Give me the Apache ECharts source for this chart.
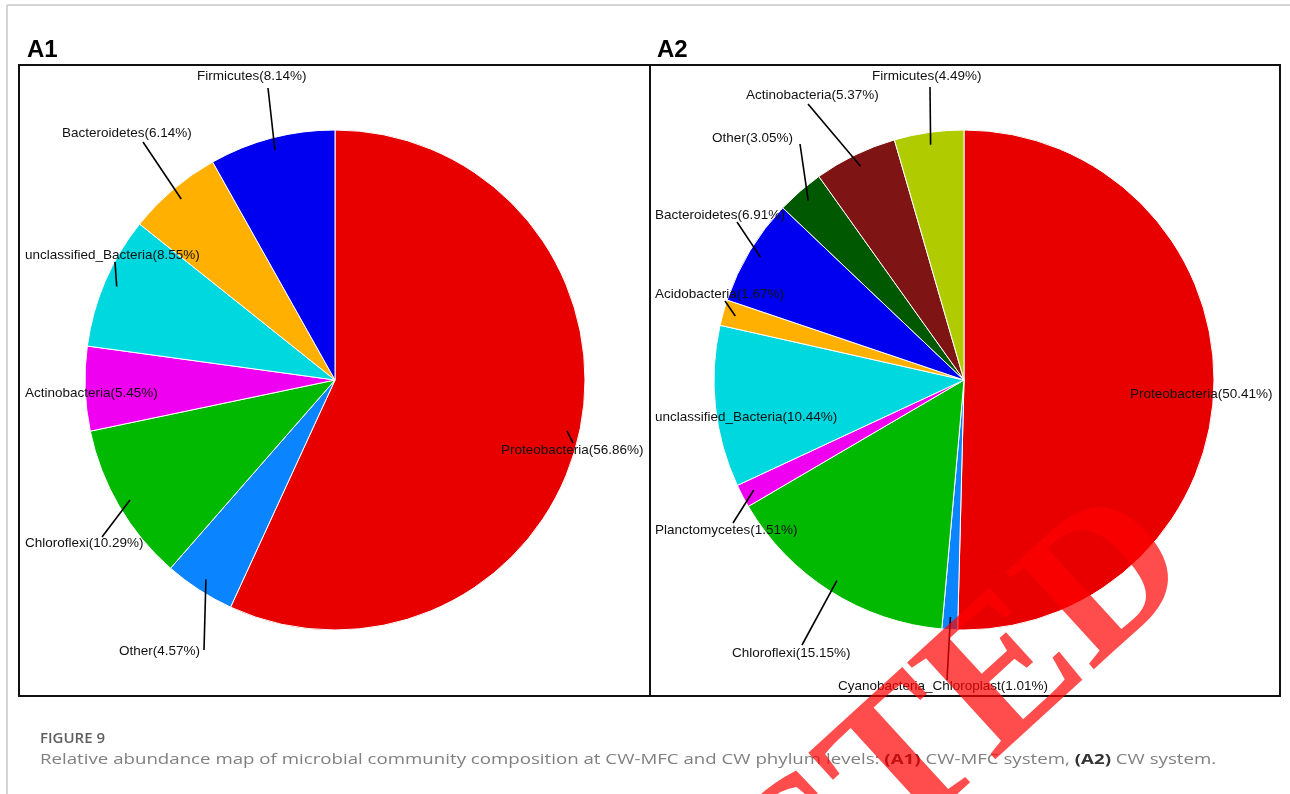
<!DOCTYPE html>
<html lang="en">
<head>
<meta charset="UTF-8">
<title>Figure 9</title>
<script src="https://cdn.jsdelivr.net/npm/echarts@6/dist/echarts.min.js"></script>
<style>
  html, body { margin: 0; padding: 0; background: #fff; }
  #chart { width: 1290px; height: 794px; }
</style>
</head>
<body>
<div id="chart"></div>
<script>
  // A1: CW-MFC system (clockwise from 12 o'clock)
  const a1Names = ["Proteobacteria", "Other", "Chloroflexi", "Actinobacteria",
                   "unclassified_Bacteria", "Bacteroidetes", "Firmicutes"];
  const a1Values = [56.86, 4.57, 10.29, 5.45, 8.55, 6.14, 8.14];
  const a1Colors = ["#e80000", "#0a84ff", "#00b900", "#f000f0", "#00d8e0", "#ffb000", "#0000f0"];

  // A2: CW system
  const a2Names = ["Proteobacteria", "Cyanobacteria_Chloroplast", "Chloroflexi", "Planctomycetes",
                   "unclassified_Bacteria", "Acidobacteria", "Bacteroidetes", "Other",
                   "Actinobacteria", "Firmicutes"];
  const a2Values = [50.41, 1.01, 15.15, 1.51, 10.44, 1.67, 6.91, 3.05, 5.37, 4.49];
  const a2Colors = ["#e80000", "#0a84ff", "#00b900", "#f000f0", "#00d8e0", "#ffb000", "#0000f0",
                    "#005800", "#7f1414", "#b0cc00"];

  // label placement: [text left x, text middle y, leader end x, leader end y] (no end = no leader)
  const a1Labels = [
    [501, 450, 573, 443], [119, 651, 204, 650], [25, 543, 102, 537], [25, 393],
    [25, 255, 115, 262], [62, 133, 143, 142], [197, 76, 268, 88]
  ];
  const a2Labels = [
    [1130, 394], [838, 686, 947, 680], [732, 653, 802, 645], [655, 530, 733, 523],
    [655, 417], [655, 294, 725, 301], [655, 215, 737, 222], [712, 138, 800, 144],
    [746, 95, 808, 104], [872, 76, 930, 87]
  ];

  const R = 250;
  const a1Center = [335, 380];
  const a2Center = [964, 380];

  // point at k*R on the middle angle of each slice
  function midPoints(values, center, k) {
    const total = values.reduce((s, v) => s + v, 0);
    let acc = 0;
    return values.map((v) => {
      const a = (acc + v / 2) / total * 2 * Math.PI;
      acc += v;
      return [center[0] + Math.sin(a) * R * k, center[1] - Math.cos(a) * R * k];
    });
  }

  function pieSeries(names, values, colors, center, labels) {
    return {
      type: "pie",
      center: center,
      radius: R,
      startAngle: 90,
      clockwise: true,
      minAngle: 0,
      avoidLabelOverlap: false,
      silent: true,
      animation: false,
      data: names.map((n, i) => ({ name: n, value: values[i], itemStyle: { color: colors[i] } })),
      itemStyle: { borderColor: "#fff", borderWidth: 1 },
      label: {
        show: true,
        position: "outside",
        formatter: (p) => p.name + "(" + p.value.toFixed(2) + "%)",
        fontFamily: "Liberation Sans",
        fontSize: 13.5,
        color: "#111"
      },
      labelLine: { show: false },
      labelLayout: (p) => {
        const L = labels[p.dataIndex];
        return { x: L[0], y: L[1], align: "left", verticalAlign: "middle" };
      }
    };
  }

  // leader lines from inside each slice (0.95 R, mid angle) to its label
  function leaders(values, center, labels) {
    const inner = midPoints(values, center, 0.95);
    return labels.map((L, i) => L.length < 4 ? null : {
      type: "line", z: 50, silent: true,
      shape: { x1: inner[i][0], y1: inner[i][1], x2: L[2], y2: L[3] },
      style: { stroke: "#000", lineWidth: 1.6 }
    }).filter(Boolean);
  }

  const chart = echarts.init(document.getElementById("chart"));
  chart.setOption({
    animation: false,
    backgroundColor: "#fff",
    series: [
      pieSeries(a1Names, a1Values, a1Colors, a1Center, a1Labels),
      pieSeries(a2Names, a2Values, a2Colors, a2Center, a2Labels)
    ],
    graphic: [
      // page frame
      { type: "line", shape: { x1: 7, y1: 5, x2: 1290, y2: 5 }, style: { stroke: "#d4d4d4", lineWidth: 2 } },
      { type: "line", shape: { x1: 7, y1: 5, x2: 7, y2: 794 }, style: { stroke: "#d4d4d4", lineWidth: 2 } },
      // panel boxes
      { type: "rect", z: 10, shape: { x: 19, y: 65, width: 631, height: 631 }, style: { fill: null, stroke: "#111", lineWidth: 2 } },
      { type: "rect", z: 10, shape: { x: 650, y: 65, width: 630, height: 631 }, style: { fill: null, stroke: "#111", lineWidth: 2 } },
      // panel titles
      { type: "text", x: 27, y: 50, style: { text: "A1", font: "bold 24px 'Liberation Sans'", fill: "#000", verticalAlign: "middle" } },
      { type: "text", x: 657, y: 50, style: { text: "A2", font: "bold 24px 'Liberation Sans'", fill: "#000", verticalAlign: "middle" } },
      ...leaders(a1Values, a1Center, a1Labels),
      ...leaders(a2Values, a2Center, a2Labels),
      // caption
      { type: "text", x: 40, y: 739, style: { text: "FIGURE 9", font: "600 15px 'Open Sans'", fill: "#5f5f5f", verticalAlign: "middle" } },
      {
        type: "text", x: 40, y: 760, scaleX: 1.245,
        style: {
          text: "Relative abundance map of microbial community composition at CW-MFC and CW phylum levels: {b|(A1)} CW-MFC system, {b|(A2)} CW system.",
          font: "15px 'Open Sans'", fill: "#808080", verticalAlign: "middle",
          rich: { b: { fontWeight: "bold", fontFamily: "Open Sans", fontSize: 15, fill: "#333" } }
        }
      },
      // retraction stamp
      {
        type: "text", x: 1163, y: 536, rotation: 0.74, z: 100,
        style: {
          text: "RETRACTED", font: "bold 200px 'Liberation Serif'",
          fill: "rgba(255,0,0,0.7)", align: "right", verticalAlign: "middle"
        }
      }
    ]
  });
</script>
</body>
</html>
